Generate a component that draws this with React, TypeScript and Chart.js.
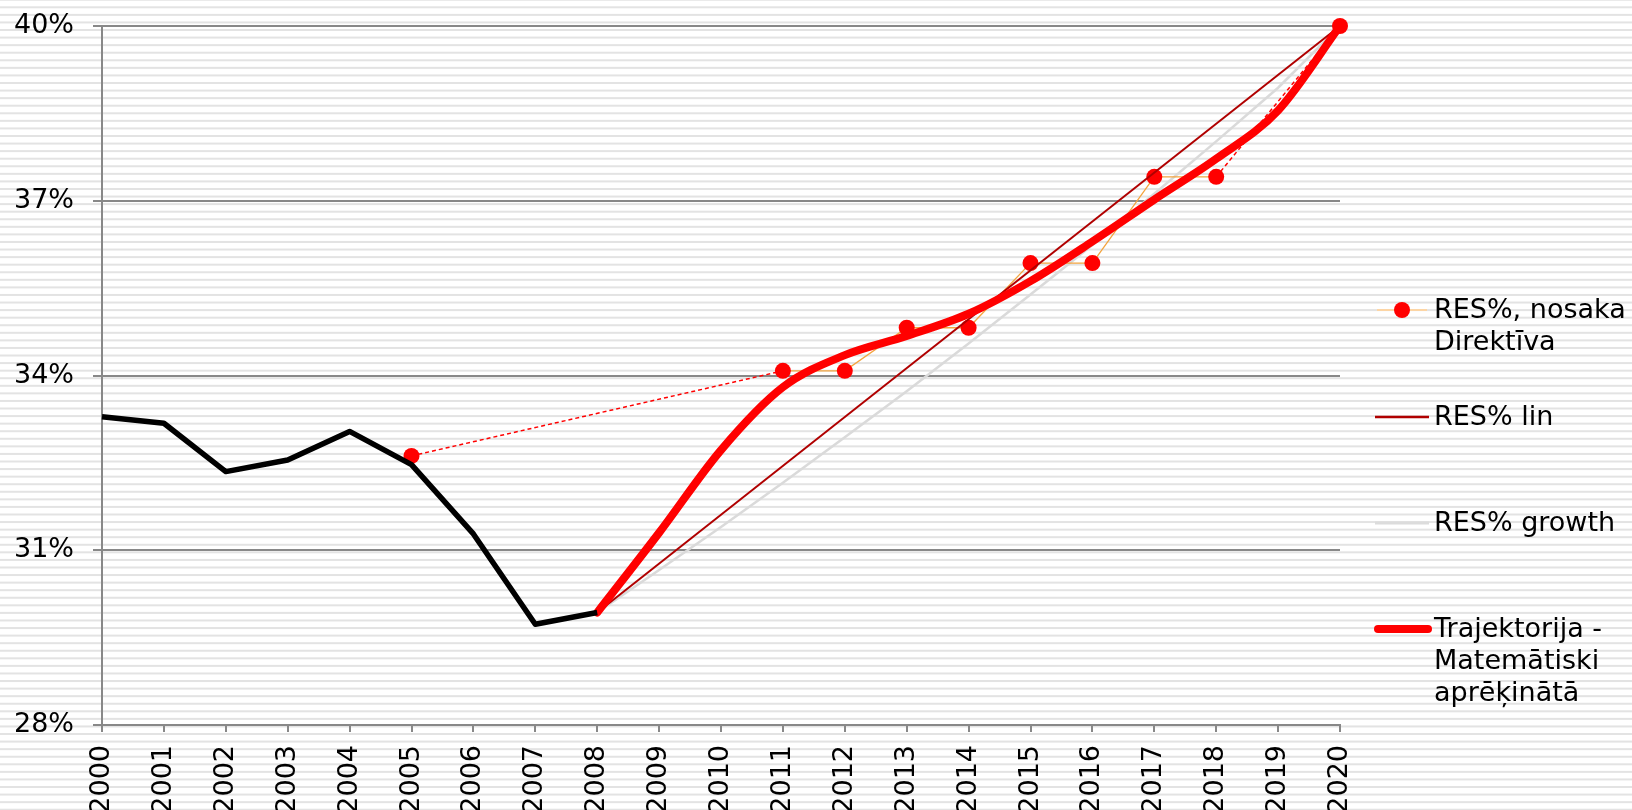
import React, { useEffect, useRef } from "react";
import { Chart, registerables } from "chart.js";

Chart.register(...registerables);

const years = [
  "2000", "2001", "2002", "2003", "2004", "2005", "2006", "2007", "2008", "2009", "2010",
  "2011", "2012", "2013", "2014", "2015", "2016", "2017", "2018", "2019", "2020",
];

const yTicks = [28, 31, 34, 37, 40];

// historical RES share (black line)
const historical = [33.29, 33.18, 32.35, 32.55, 33.04, 32.47, 31.28, 29.73, 29.93,
  null, null, null, null, null, null, null, null, null, null, null, null];

// RES%, nosaka Direktīva (red dots, orange connecting line)
const directive = [null, null, null, null, null, 32.62, null, null, null, null, null,
  34.08, 34.08, 34.82, 34.82, 35.93, 35.93, 37.41, 37.41, null, 40];

// dashed red connectors
const dashed2005 = [null, null, null, null, null, 32.62, null, null, null, null, null,
  34.08, null, null, null, null, null, null, null, null, null];
const dashed2018 = [null, null, null, null, null, null, null, null, null, null, null,
  null, null, null, null, null, null, null, 37.41, null, 40];

// RES% lin
const linear = [null, null, null, null, null, null, null, null, 29.93, null, null,
  null, null, null, null, null, null, null, null, null, 40];

// RES% growth
const growth = [null, null, null, null, null, null, null, null, 29.93, 30.66, 31.40,
  32.16, 32.94, 33.73, 34.55, 35.39, 36.24, 37.12, 38.02, 38.94, 40];

// Trajektorija - Matemātiski aprēķinātā
const trajectory = [null, null, null, null, null, null, null, null, 29.93, 31.3, 32.72,
  33.8, 34.35, 34.68, 35.06, 35.62, 36.3, 37.02, 37.72, 38.55, 40];

const legendDirective = ["RES%, nosaka", "Direktīva"];
const legendLinear = ["RES% lin"];
const legendGrowth = ["RES% growth"];
const legendTrajectory = ["Trajektorija -", "Matemātiski", "aprēķinātā"];

const FONT = '"DejaVu Sans", Verdana, sans-serif';
const FONT_SIZE = 27;
const W = 1632;
const H = 810;

const stripesPlugin = {
  id: "stripes",
  beforeDraw(chart: any) {
    const ctx = chart.ctx;
    ctx.save();
    ctx.fillStyle = "#ffffff";
    ctx.fillRect(0, 0, chart.width, chart.height);
    ctx.fillStyle = "#e3e3e3";
    const period = 7.57;
    for (let y = 7.3 - period; y < chart.height + period; y += period) {
      ctx.fillRect(0, y - 1, chart.width, 2);
    }
    ctx.restore();
  },
};

const legendPlugin = {
  id: "customLegend",
  afterDraw(chart: any) {
    const ctx = chart.ctx;
    ctx.save();
    const line = (x1: number, x2: number, y: number, color: string, w: number, cap: CanvasLineCap = "butt") => {
      ctx.beginPath();
      ctx.strokeStyle = color;
      ctx.lineWidth = w;
      ctx.lineCap = cap;
      ctx.moveTo(x1, y);
      ctx.lineTo(x2, y);
      ctx.stroke();
    };
    const text = (lines: string[], x: number, y: number) => {
      ctx.font = `${FONT_SIZE}px ${FONT}`;
      ctx.fillStyle = "#000";
      ctx.textBaseline = "middle";
      ctx.textAlign = "left";
      lines.forEach((t, i) => ctx.fillText(t, x, y + i * 32));
    };
    // entry 1
    line(1377, 1427, 310, "#fcd5a5", 2);
    ctx.beginPath();
    ctx.fillStyle = "#ff0000";
    ctx.arc(1402, 310, 8, 0, Math.PI * 2);
    ctx.fill();
    text(legendDirective, 1434, 311);
    // entry 2
    line(1375, 1429, 417, "#b00000", 2.5);
    text(legendLinear, 1434, 418);
    // entry 3
    line(1375, 1429, 523, "#dcdcdc", 3);
    text(legendGrowth, 1434, 524);
    // entry 4
    line(1378, 1428, 629, "#ff0000", 8, "round");
    text(legendTrajectory, 1434, 630);
    ctx.restore();
  },
};

export default function App() {
  const ref = useRef<HTMLCanvasElement | null>(null);

  useEffect(() => {
    document.body.style.margin = "0";
    const canvas = ref.current;
    if (!canvas) return;
    Chart.defaults.font.family = FONT;

    const chart = new Chart(canvas, {
      type: "line",
      data: {
        labels: years,
        datasets: [
          {
            label: "Vēsturiskie dati",
            data: historical,
            borderColor: "#000000",
            borderWidth: 5.5,
            pointRadius: 0,
            borderJoinStyle: "round",
            clip: false,
          },
          {
            label: "Trajektorija - Matemātiski aprēķinātā",
            data: trajectory,
            borderColor: "#ff0000",
            borderWidth: 8,
            pointRadius: 0,
            cubicInterpolationMode: "monotone",
            borderCapStyle: "round",
            borderJoinStyle: "round",
            clip: false,
          },
          {
            label: "RES% lin",
            data: linear,
            borderColor: "#b00000",
            borderWidth: 2,
            pointRadius: 0,
            spanGaps: true,
            clip: false,
          },
          {
            label: "RES%, nosaka Direktīva",
            data: directive,
            borderColor: "#f4a540",
            borderWidth: 1.3,
            pointRadius: 8,
            pointBackgroundColor: "#ff0000",
            pointBorderWidth: 0,
            pointBorderColor: "#ff0000",
            spanGaps: false,
            clip: false,
          },
          {
            label: "d2005",
            data: dashed2005,
            borderColor: "#ff0000",
            borderWidth: 1.5,
            borderDash: [4, 3],
            pointRadius: 0,
            spanGaps: true,
            clip: false,
          },
          {
            label: "d2018",
            data: dashed2018,
            borderColor: "#ff0000",
            borderWidth: 1.5,
            borderDash: [4, 3],
            pointRadius: 0,
            spanGaps: true,
            clip: false,
          },
          {
            label: "RES% growth",
            data: growth,
            borderColor: "#dadada",
            borderWidth: 2.5,
            pointRadius: 0,
            clip: false,
          },
        ],
      },
      options: {
        responsive: false,
        animation: false,
        devicePixelRatio: 1,
        events: [],
        layout: { padding: { left: 0, top: 26, right: 292, bottom: 0 } },
        plugins: {
          legend: { display: false },
          tooltip: { enabled: false },
        },
        scales: {
          x: {
            type: "category",
            offset: false,
            grid: {
              drawOnChartArea: false,
              drawTicks: true,
              tickLength: 7,
              color: "#888888",
              lineWidth: 2,
            },
            border: { color: "#888888", width: 2 },
            ticks: {
              autoSkip: false,
              maxRotation: 90,
              minRotation: 90,
              padding: 13,
              color: "#000000",
              font: { family: FONT, size: FONT_SIZE },
            },
            afterFit: (s: any) => {
              s.height = 85;
              s.paddingLeft = 0;
              s.paddingRight = 0;
              s.paddingTop = 0;
              s.paddingBottom = 0;
            },
          },
          y: {
            min: yTicks[0],
            max: yTicks[yTicks.length - 1],
            afterBuildTicks: (s: any) => {
              s.ticks = yTicks.map((v) => ({ value: v }));
            },
            grid: { color: "#888888", lineWidth: 2, tickLength: 9 },
            border: { color: "#888888", width: 2 },
            ticks: {
              padding: 19,
              color: "#000000",
              font: { family: FONT, size: FONT_SIZE },
              callback: (v: any) => `${v}%`,
            },
            afterFit: (s: any) => {
              s.width = 102;
              s.paddingTop = 0;
              s.paddingBottom = 0;
              s.paddingLeft = 0;
              s.paddingRight = 0;
            },
          },
        },
      },
      plugins: [stripesPlugin, legendPlugin],
    } as any);

    return () => chart.destroy();
  }, []);

  return (
    <div style={{ position: "absolute", left: 0, top: 0, width: W, height: H, overflow: "hidden" }}>
      <canvas ref={ref} width={W} height={H} style={{ display: "block", width: W, height: H }} />
    </div>
  );
}
